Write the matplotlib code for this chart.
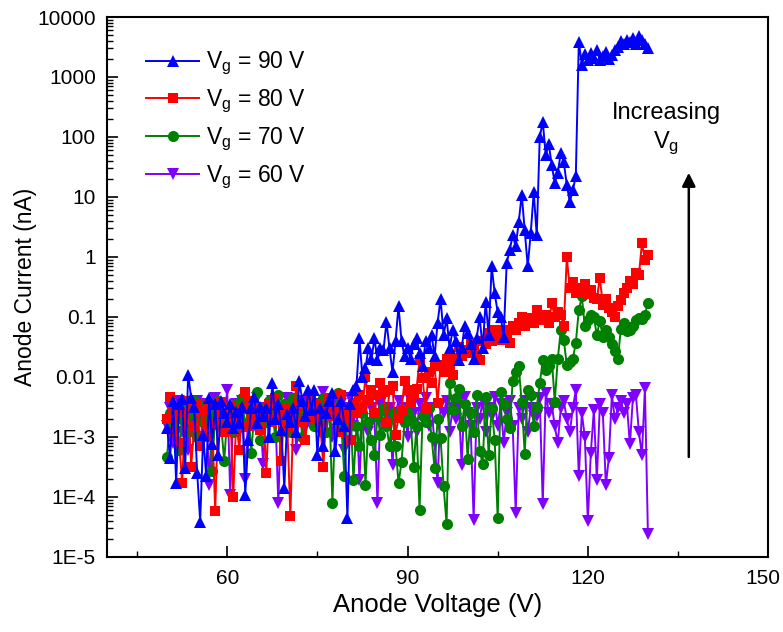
import matplotlib
matplotlib.use("Agg")
import matplotlib.pyplot as plt
import matplotlib.transforms as mtransforms
from matplotlib.ticker import FixedLocator, NullFormatter
import numpy as np

plt.rcParams.update({"font.family": "Liberation Sans", "font.size": 15,
                     "mathtext.fontset": "custom", "mathtext.rm": "Liberation Sans",
                     "mathtext.it": "Liberation Sans:italic"})

# anode voltage steps (V), 0.5 V sweep from 50 to 130
voltage = np.arange(50, 130.25, 0.5)

# anode current (nA) (5 V per row)
cur_90 = [1.4e-3, 4.5e-4, 4.0e-3, 1.7e-4, 3.5e-3, 4.3e-3, 3.0e-4, 1.1e-2, 4.5e-3, 3.2e-3,
          2.5e-4, 3.9e-5, 1.1e-3, 2.2e-4, 4.5e-3, 7.5e-4, 3.5e-3, 5.0e-4, 4.0e-3, 2.5e-3,
          1.8e-3, 3.5e-3, 1.4e-3, 2.6e-3, 1.7e-3, 3.2e-3, 1.1e-4, 9.0e-4, 3.0e-3, 4.6e-3,
          1.7e-3, 3.2e-3, 2.2e-3, 3.0e-3, 1.0e-3, 8.0e-3, 2.0e-3, 3.5e-3, 1.3e-3, 1.4e-4,
          2.4e-3, 1.8e-3, 3.0e-3, 1.2e-3, 8.5e-3, 4.0e-3, 2.2e-3, 6.0e-3, 2.8e-3, 6.0e-3,
          5.0e-4, 3.0e-3, 7.0e-4, 2.5e-3, 4.0e-3, 5.5e-3, 5.8e-4, 2.0e-3, 4.0e-3, 1.5e-3,
          4.4e-5, 3.6e-3, 6.0e-3, 7.0e-3, 0.044, 0.01, 0.014, 0.03, 0.02, 0.044,
          0.019, 0.03, 0.028, 0.083, 0.03, 0.012, 0.04, 0.15, 0.04, 0.022,
          0.03, 0.02, 0.035, 0.045, 0.025, 0.015, 0.04, 0.03, 0.05, 0.022,
          0.08, 0.2, 0.05, 0.095, 0.03, 0.06, 0.04, 0.019, 0.03, 0.07,
          0.055, 0.035, 0.02, 0.045, 0.1, 0.03, 0.18, 0.05, 0.7, 0.25,
          0.12, 0.1, 0.047, 0.8, 1.3, 2.3, 1.5, 3.8, 11, 2.8,
          0.7, 2.5, 12, 2.3, 100, 180, 50, 75, 34, 17,
          25, 55, 38, 16, 8.3, 13, 22, 3900, 1600, 2400,
          1900, 2500, 2100, 2800, 1900, 2200, 2600, 2000, 2300, 2800,
          3200, 4000, 3500, 4200, 3800, 4400, 3600, 4800, 4100, 3500,
          3000]

cur_80 = [2.0e-3, 4.7e-3, 1.2e-3, 3.0e-3, 8.0e-4, 1.7e-4, 2.5e-3, 4.0e-3, 3.2e-4, 1.5e-3,
          3.5e-3, 7.0e-4, 2.8e-3, 1.0e-3, 3.5e-3, 1.6e-3, 5.9e-5, 2.5e-3, 3.8e-3, 1.2e-3,
          2.4e-3, 3.2e-3, 1.0e-4, 2.0e-3, 6.0e-4, 3.0e-3, 5.7e-3, 1.5e-3, 4.0e-3, 2.2e-3,
          3.0e-3, 1.3e-3, 2.8e-3, 2.5e-4, 3.5e-3, 1.8e-3, 4.5e-3, 2.0e-3, 4.0e-4, 3.0e-3,
          1.5e-3, 4.8e-5, 2.5e-3, 7.0e-3, 3.5e-3, 1.8e-3, 9.0e-4, 3.0e-3, 4.0e-3, 2.0e-3,
          3.5e-3, 1.5e-3, 3.2e-4, 2.8e-3, 4.5e-3, 2.2e-3, 3.0e-3, 1.2e-3, 5.0e-3, 2.5e-3,
          2.0e-3, 9.0e-4, 3.5e-3, 2.5e-3, 5.0e-3, 3.0e-3, 1.0e-2, 4.0e-3, 6.0e-3, 2.5e-3,
          5.0e-3, 8.0e-3, 5.7e-3, 1.8e-3, 6.0e-3, 7.0e-3, 1.1e-3, 2.1e-3, 2.8e-3, 8.7e-3,
          6.0e-3, 3.7e-3, 5.0e-3, 6.4e-3, 1.9e-2, 9.6e-3, 3.0e-3, 1.2e-2, 8.0e-3, 1.5e-2,
          3.7e-3, 1.6e-2, 1.2e-2, 2.0e-2, 1.4e-2, 1.1e-2, 2.0e-2, 3.2e-2, 2.2e-2, 2.8e-2,
          2.5e-2, 3.5e-2, 3.0e-2, 2.2e-2, 1.9e-2, 4.0e-2, 0.035, 0.054, 0.04, 0.06,
          0.045, 0.042, 0.06, 0.05, 0.037, 0.07, 0.06, 0.08, 0.1, 0.07,
          0.085, 0.095, 0.08, 0.13, 0.1, 0.09, 0.11, 0.08, 0.17, 0.1,
          0.12, 0.11, 0.07, 1.0, 0.3, 0.38, 0.25, 0.3, 0.26, 0.36,
          0.24, 0.28, 0.21, 0.2, 0.45, 0.16, 0.2, 0.14, 0.12, 0.1,
          0.15, 0.19, 0.25, 0.3, 0.4, 0.36, 0.55, 0.5, 1.7, 0.9,
          1.1]

cur_70 = [4.7e-4, 2.5e-3, 1.5e-3, 3.0e-3, 6.0e-4, 2.0e-3, 3.5e-3, 1.2e-3, 2.5e-3, 4.0e-3,
          1.0e-3, 2.8e-3, 1.8e-3, 3.5e-3, 2.0e-3, 2.7e-4, 2.5e-3, 4.0e-3, 1.5e-3, 4.0e-4,
          2.2e-3, 3.0e-3, 1.2e-3, 3.5e-3, 2.0e-3, 4.5e-3, 1.5e-3, 3.0e-3, 5.4e-4, 2.5e-3,
          5.7e-3, 9.0e-4, 3.0e-3, 1.8e-3, 4.0e-3, 2.5e-3, 1.0e-3, 5.0e-3, 2.2e-3, 3.5e-3,
          1.2e-3, 3.0e-3, 4.5e-3, 1.8e-3, 2.8e-3, 1.0e-3, 3.5e-3, 2.2e-3, 4.0e-3, 1.5e-3,
          3.0e-3, 2.0e-3, 4.5e-3, 1.2e-3, 3.0e-3, 8.0e-5, 2.5e-3, 5.5e-3, 1.5e-3, 2.2e-4,
          2.0e-3, 3.0e-3, 1.9e-4, 1.5e-3, 7.0e-4, 2.5e-3, 1.6e-4, 1.8e-3, 9.0e-4, 5.0e-4,
          2.2e-3, 1.1e-3, 3.0e-3, 1.5e-3, 7.0e-4, 2.5e-3, 7.0e-4, 1.7e-4, 3.8e-4, 1.8e-3,
          2.5e-3, 2.0e-3, 3.2e-4, 1.5e-3, 6.0e-5, 2.2e-3, 1.8e-3, 3.0e-3, 1.0e-3, 3.0e-4,
          2.0e-3, 9.5e-4, 1.5e-4, 3.5e-5, 7.8e-3, 2.8e-3, 4.5e-3, 6.4e-3, 1.5e-3, 3.5e-3,
          4.3e-4, 2.5e-3, 1.2e-3, 5.0e-3, 5.8e-4, 3.6e-4, 4.6e-3, 5.0e-4, 3.0e-3, 9.0e-4,
          4.4e-5, 5.7e-3, 3.5e-3, 2.0e-3, 1.4e-3, 8.7e-3, 1.2e-2, 1.5e-2, 3.8e-3, 5.3e-4,
          6.0e-3, 5.0e-3, 1.5e-3, 3.2e-3, 7.8e-3, 1.9e-2, 1.3e-2, 1.5e-2, 2.0e-2, 3.9e-3,
          0.02, 0.06, 0.041, 0.016, 0.018, 0.02, 0.037, 0.13, 0.22, 0.07,
          0.09, 0.11, 0.1, 0.05, 0.086, 0.046, 0.06, 0.047, 0.035, 0.027,
          0.02, 0.064, 0.08, 0.058, 0.06, 0.07, 0.09, 0.095, 0.094, 0.11,
          0.17]

cur_60 = [1.5e-3, 3.0e-3, 8.0e-4, 2.5e-3, 4.0e-3, 1.2e-3, 3.5e-3, 6.0e-4, 2.8e-3, 1.8e-3,
          4.0e-3, 2.2e-3, 1.0e-3, 3.5e-3, 1.6e-4, 2.5e-3, 4.5e-3, 1.5e-3, 3.0e-3, 2.0e-3,
          6.0e-3, 1.1e-4, 2.5e-3, 3.5e-3, 1.2e-3, 4.0e-3, 2.0e-4, 2.5e-3, 3.0e-3, 1.5e-3,
          4.5e-3, 2.0e-3, 3.5e-4, 3.0e-3, 1.8e-3, 4.0e-3, 2.5e-3, 7.8e-5, 3.0e-3, 1.5e-3,
          4.5e-3, 2.2e-3, 3.5e-3, 6.0e-4, 2.8e-3, 4.0e-3, 1.4e-3, 3.0e-3, 4.5e-3, 2.0e-3,
          3.5e-3, 1.2e-3, 5.7e-3, 2.5e-3, 3.0e-3, 1.0e-3, 4.0e-3, 2.0e-3, 3.5e-3, 6.0e-4,
          3.0e-3, 4.5e-3, 1.5e-3, 3.5e-3, 1.9e-4, 2.5e-3, 4.0e-3, 1.2e-3, 3.0e-3, 2.0e-3,
          7.8e-5, 3.5e-3, 4.5e-3, 1.5e-3, 3.0e-3, 3.4e-4, 2.5e-3, 4.0e-3, 1.8e-3, 3.0e-3,
          1.0e-3, 4.0e-3, 2.5e-3, 1.2e-3, 3.5e-3, 2.0e-3, 4.5e-3, 1.5e-3, 3.0e-3, 8.0e-4,
          1.7e-4, 3.5e-3, 2.5e-3, 4.0e-3, 1.2e-3, 3.0e-3, 2.0e-3, 4.0e-3, 3.4e-4, 4.6e-3,
          2.5e-3, 1.5e-3, 4.2e-5, 3.0e-3, 2.0e-3, 4.0e-3, 1.2e-3, 3.0e-3, 2.2e-3, 4.6e-3,
          1.5e-3, 3.5e-3, 8.0e-4, 2.5e-3, 4.0e-3, 1.5e-3, 5.5e-5, 3.0e-3, 2.0e-3, 4.0e-3,
          1.2e-3, 3.0e-3, 2.2e-3, 2.2e-3, 4.5e-3, 7.5e-5, 5.5e-3, 2.5e-3, 3.5e-3, 1.5e-3,
          8.0e-4, 3.0e-3, 4.0e-3, 2.0e-3, 1.2e-3, 3.0e-3, 6.0e-3, 2.2e-4, 2.5e-3, 1.0e-3,
          4.0e-5, 5.5e-4, 2.8e-3, 1.9e-4, 3.5e-3, 2.5e-3, 1.6e-4, 4.5e-4, 5.0e-3, 2.0e-3,
          3.0e-3, 4.0e-3, 2.5e-3, 3.5e-3, 7.5e-4, 4.5e-3, 5.0e-3, 1.2e-3, 5.0e-4, 6.5e-3,
          2.4e-5]

series = [  # (label, current, colour, marker, size), drawn bottom to top
    ("60", cur_60, "#8000FF", "v", 9),
    ("70", cur_70, "#008000", "o", 8),
    ("80", cur_80, "#FF0000", "s", 7.5),
    ("90", cur_90, "#0000FF", "^", 9),
]

fig = plt.figure(figsize=(7.83, 6.32), dpi=100)
ax = fig.add_axes([0.1367, 0.1187, 0.8443, 0.8544])

handles = {}
for vg, cur, col, mk, ms in series:
    ln, = ax.plot(voltage, cur, color=col, marker=mk, markersize=ms, lw=1.4,
                  markeredgewidth=0, label=r"$\mathregular{V_g}$ = %s V" % vg)
    handles[vg] = ln

ax.set_yscale("log")
ax.set_xlim(40, 150)
ax.set_ylim(1e-5, 1e4)

ax.set_xticks([60, 90, 120, 150])
ax.xaxis.set_minor_locator(FixedLocator([45, 75, 105, 135]))
ytick_vals = [1e-5, 1e-4, 1e-3, 1e-2, 1e-1, 1, 10, 100, 1000, 10000]
ytick_labels = ["1E-5", "1E-4", "1E-3", "0.01", "0.1", "1", "10", "100", "1000", "10000"]
ax.set_yticks(ytick_vals)
ax.set_yticklabels(ytick_labels)
minors = [m * 10.0 ** e for e in range(-5, 4) for m in range(2, 10)]
ax.yaxis.set_minor_locator(FixedLocator(minors))
ax.yaxis.set_minor_formatter(NullFormatter())

ax.tick_params(which="both", direction="in", top=False, right=False, labelsize=15)
ax.tick_params(axis="x", pad=9)
ax.tick_params(axis="y", pad=8)
ax.tick_params(which="major", length=8, width=1.2)
ax.tick_params(which="minor", length=4.5, width=1.0)
for s in ax.spines.values():
    s.set_linewidth(1.5)

# keep the last x label ("150") inside the figure edge
last = ax.get_xticklabels()[-1]
last.set_transform(last.get_transform() +
                   mtransforms.ScaledTranslation(-5 / 100, 0, fig.dpi_scale_trans))

ax.set_xlabel("Anode Voltage (V)", fontsize=18.5, labelpad=3)
ax.set_ylabel("Anode Current (nA)", fontsize=16.5, labelpad=0)

order = ["90", "80", "70", "60"]
ax.legend([handles[k] for k in order], [handles[k].get_label() for k in order],
          loc="upper left", bbox_to_anchor=(0.028, 0.977), frameon=False, fontsize=16.5,
          handlelength=2.3, handletextpad=0.3, labelspacing=0.45, numpoints=1)

ax.text(133, 10 ** 2.4, "Increasing", fontsize=17, ha="center", va="center")
ax.text(133, 10 ** 1.9, r"$\mathregular{V_g}$", fontsize=17, ha="center", va="center")
ax.annotate("", xy=(136.8, 10 ** 1.45), xytext=(136.8, 10 ** -3.38),
            arrowprops=dict(arrowstyle="-|>", color="black", lw=1.8, mutation_scale=20))

fig.savefig("out.png", dpi=100)
